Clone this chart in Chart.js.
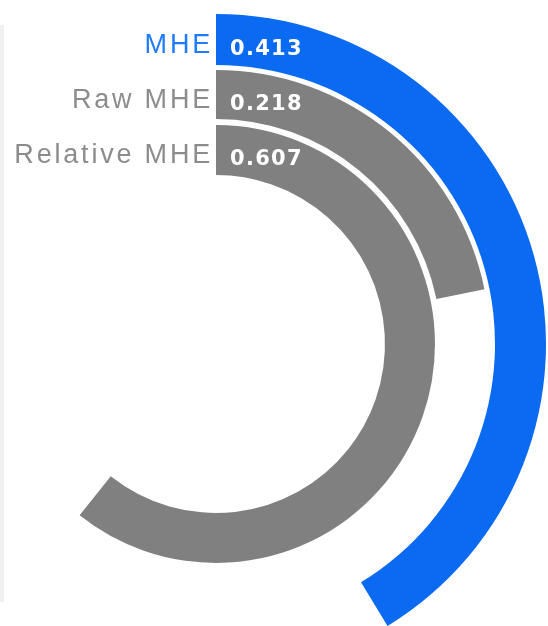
<!DOCTYPE html>
<html lang="en">
<head>
  <meta charset="UTF-8">
  <title>MHE radial bars</title>
  <script src="https://cdn.jsdelivr.net/npm/chart.js"></script>
  <style>
    body {
      margin: 0;
      background: #fff;
    }
    .wrap {
      position: relative;
      width: 548px;
      height: 626px;
    }
    .edge {
      position: absolute;
      left: 0;
      top: 25px;
      width: 4px;
      height: 577px;
      background: #f0f0f0;
    }
  </style>
</head>
<body>
  <div class="wrap">
    <div class="edge"></div>
    <canvas id="radial"></canvas>
  </div>

  <script>
    const labels = ["MHE", "Raw MHE", "Relative MHE"];
    const values = [0.413, 0.218, 0.607];
    const ringColors = ["#0a6af2", "#808080", "#808080"];
    const labelColors = ["#1f7bff", "#8c8c8c", "#8c8c8c"];

    const clear = "rgba(0,0,0,0)";
    const ringWeights = [51, 49, 50];
    const gapWeights = [5, 6];

    // one ring per series, a transparent thin ring between them as the gap
    const datasets = [];
    values.forEach((v, i) => {
      datasets.push({
        label: labels[i],
        data: [v, 1 - v],
        backgroundColor: [ringColors[i], clear],
        borderWidth: 0,
        weight: ringWeights[i]
      });
      if (i < gapWeights.length) {
        datasets.push({
          label: "gap",
          data: [1],
          backgroundColor: [clear],
          borderWidth: 0,
          weight: gapWeights[i]
        });
      }
    });

    const ringLabels = {
      id: "ringLabels",
      afterDatasetsDraw(chart) {
        const ctx = chart.ctx;
        ctx.save();
        chart.data.datasets.forEach((ds, di) => {
          const idx = labels.indexOf(ds.label);
          if (idx < 0) return;
          const arc = chart.getDatasetMeta(di).data[0];
          const mid = arc.y - (arc.innerRadius + arc.outerRadius) / 2;

          ctx.letterSpacing = "2.8px";
          ctx.font = "27px 'Liberation Sans', Arial, sans-serif";
          ctx.fillStyle = labelColors[idx];
          ctx.textAlign = "right";
          ctx.textBaseline = "alphabetic";
          ctx.fillText(labels[idx], arc.x - 3, mid + 13);

          ctx.letterSpacing = "1.3px";
          ctx.font = "bold 21px 'DejaVu Sans', Verdana, sans-serif";
          ctx.fillStyle = "#fff";
          ctx.textAlign = "left";
          ctx.fillText(values[idx].toFixed(3), arc.x + 14, mid + 15);
        });
        ctx.restore();
      }
    };

    new Chart(document.getElementById("radial"), {
      type: "doughnut",
      data: { labels: ["value", "rest"], datasets: datasets },
      options: {
        responsive: true,
        maintainAspectRatio: false,
        animation: false,
        radius: 330,
        cutout: "51.2%",
        layout: { padding: { left: 0, right: 116, top: 62, bottom: 0 } },
        plugins: {
          legend: { display: false },
          tooltip: { enabled: false }
        }
      },
      plugins: [ringLabels]
    });
  </script>
</body>
</html>
